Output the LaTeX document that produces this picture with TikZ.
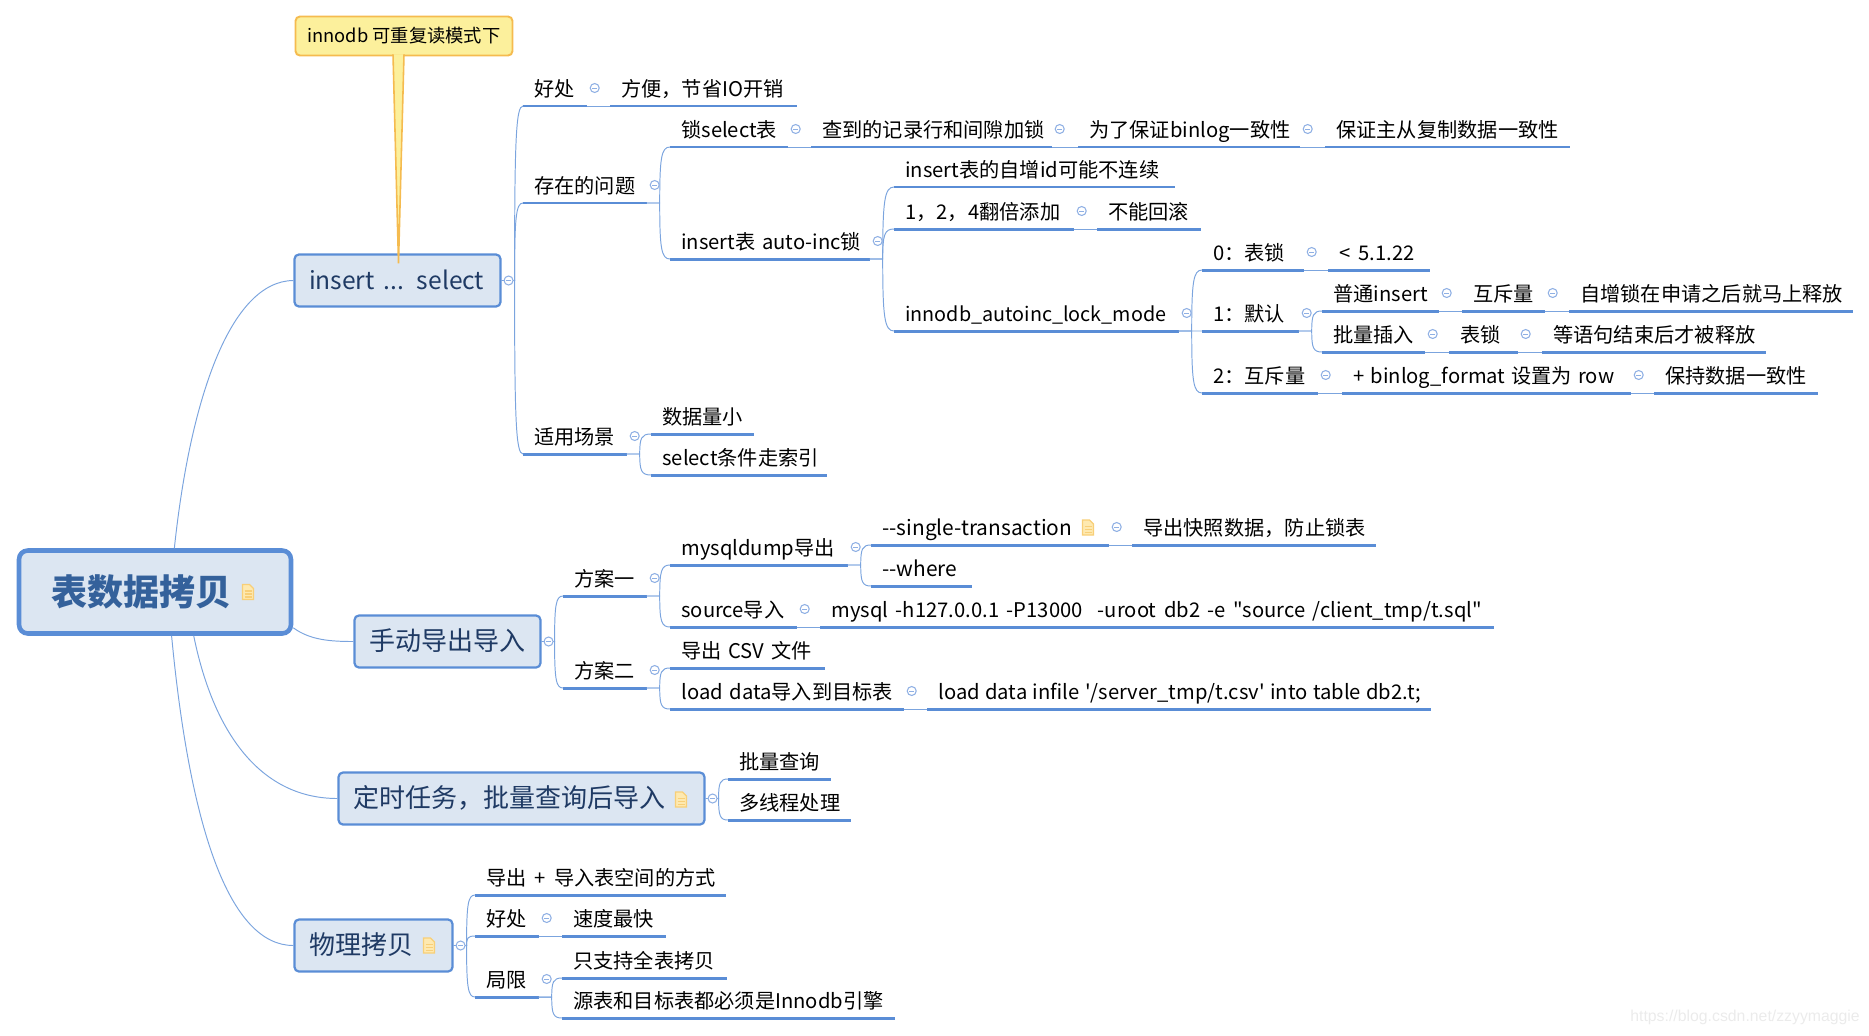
\documentclass[tikz,border=0pt]{standalone}
\usepackage{fontspec}
\usetikzlibrary{calc}
\newfontfamily\mapfont{Noto Sans CJK SC}
\newfontfamily\markfont{Liberation Sans}
\definecolor{boxfill}{HTML}{DCE6F2}
\definecolor{boxline}{HTML}{5A8DD6}
\definecolor{linkline}{HTML}{7BA4DE}
\definecolor{boxtext}{HTML}{1F3A64}
\definecolor{roottext}{HTML}{34619B}
\definecolor{calloutfill}{HTML}{FCF09C}
\definecolor{calloutline}{HTML}{F5BB4F}
\definecolor{notefill}{HTML}{FEE9B0}
\definecolor{noteline}{HTML}{F8CF78}
\definecolor{foldline}{HTML}{8FB0E4}
\tikzset{
  topic/.style={anchor=south west,text width=#1*0.02cm,inner xsep=0pt,inner ysep=0pt,align=left,
    execute at begin node={\hspace*{0.22cm}},
    text height=12pt,text depth=5.4pt,font=\mapfont\fontsize{11.5}{14}\selectfont,
    append after command={(\tikzlastnode.south west) edge[topicline] (\tikzlastnode.south east)}},
  topicline/.style={draw=boxline,line width=1.7pt},
  link/.style={draw=linkline,line width=0.55pt},
  mainbox/.style={draw=boxline,fill=boxfill,rounded corners=2.5pt,line width=1.25pt,
    text width=#1,align=left,inner xsep=0.29cm,inner ysep=0pt,minimum height=1.04cm,
    text height=12.7pt,text depth=2.1pt,text=boxtext,font=\mapfont\fontsize{14.8}{17}\selectfont},
  rootbox/.style={draw=boxline,fill=boxfill,rounded corners=5pt,line width=2.6pt,
    text width=4.14cm,align=left,inner xsep=0.65cm,inner ysep=0pt,minimum height=1.66cm,
    text height=18pt,text depth=2.5pt,text=roottext,font=\mapfont\bfseries\fontsize{20.5}{24}\selectfont},
  calloutbox/.style={draw=calloutline,fill=calloutfill,rounded corners=2.5pt,line width=1.1pt,
    minimum width=4.34cm,minimum height=0.78cm,inner sep=0pt,font=\mapfont\fontsize{10.4}{12}\selectfont},
  foldmark/.style={circle,draw=foldline,fill=white,inner sep=0pt,minimum size=0.18cm,line width=0.6pt,
    path picture={\draw[foldline,line width=0.5pt] ([xshift=-1.5pt]path picture bounding box.center)
      -- ([xshift=1.5pt]path picture bounding box.center);}},
}
\newcommand{\branch}[2]{%
  \draw[link] (#1) -- ++(13,0) coordinate (m)
    .. controls ($(m)!0.8!(m |- #2)$) and ($(m |- #2)!0.15!(#2)$) .. (#2);}
\newcommand{\widesp}[1]{\spaceskip=#1em\relax}
\newcommand{\latinsize}[1]{\fontsize{#1}{14}\selectfont}
\begin{document}
\begin{tikzpicture}[x=0.02cm,y=-0.02cm]
  \useasboundingbox (0,0) rectangle (1869,1035);
  % main boxes
  \node[rootbox] (root) at (155,592) {表数据拷贝};
  \node[mainbox=3.54cm] (insertsel) at (397.5,280.5) {\fontsize{14}{17}\selectfont\mbox{insert ... select}};
  \node[mainbox=3.14cm] (manual) at (447.5,641.5) {手动导出导入};
  \node[mainbox=6.74cm] (timed) at (521.5,798.5) {定时任务，批量查询后导入};
  \node[mainbox=2.58cm] (physical) at (373.5,945.5) {物理拷贝};
  \node[calloutbox] (callout) at (404,36) {innodb 可重复读模式下};
  % insert ... select
  \node[topic=63] (goodpart) at (523,106) {好处};
  \node[topic=186] (saveio) at (610,106) {方便，节省IO开销};
  \node[topic=123] (issues) at (523,203) {存在的问题};
  \node[topic=117] (locksel) at (670,147) {锁select表};
  \node[topic=240] (gaplock) at (811,147) {查到的记录行和间隙加锁};
  \node[topic=221] (binlog) at (1078,147) {为了保证binlog一致性};
  \node[topic=244] (replica) at (1325,147) {保证主从复制数据一致性};
  \node[topic=199] (autoinc) at (670,259) {insert表 auto-inc锁};
  \node[topic=280] (idgap) at (894,187) {insert表的自增id可能不连续};
  \node[topic=179] (doubling) at (894,229) {1，2，4翻倍添加};
  \node[topic=103] (norollback) at (1097,229) {不能回滚};
  \node[topic=284] (lockmode) at (894,331) {\latinsize{11.25}innodb\_autoinc\_lock\_mode};
  \node[topic=101] (modezero) at (1202,270) {0：表锁};
  \node[topic=101] (version) at (1328,270) {\widesp{0.4}< 5.1.22};
  \node[topic=96] (modeone) at (1202,331) {1：默认};
  \node[topic=116] (plain) at (1322,311) {普通insert};
  \node[topic=82] (mutexa) at (1462,311) {互斥量};
  \node[topic=283] (release) at (1569,311) {自增锁在申请之后就马上释放};
  \node[topic=102] (bulk) at (1322,352) {批量插入};
  \node[topic=68] (tablelock) at (1449,352) {表锁};
  \node[topic=223] (stmtend) at (1542,352) {等语句结束后才被释放};
  \node[topic=115] (modetwo) at (1202,393) {2：互斥量};
  \node[topic=288] (rowfmt) at (1342,393) {\widesp{0.3}+ binlog\_format 设置为 row};
  \node[topic=163] (consistent) at (1654,393) {保持数据一致性};
  \node[topic=103] (scene) at (523,454) {适用场景};
  \node[topic=102] (small) at (651,434) {数据量小};
  \node[topic=175] (index) at (651,475) {select条件走索引};
  % manual export and import
  \node[topic=83] (planone) at (563,596) {方案一};
  \node[topic=177] (dump) at (670,565) {mysqldump导出};
  \node[topic=237] (single) at (871,545) {\latinsize{11.9}--single-transaction};
  \node[topic=243] (snapshot) at (1132,545) {导出快照数据，防止锁表};
  \node[topic=100] (where) at (871,586) {\latinsize{11.9}--where};
  \node[topic=126] (source) at (670,627) {source导入};
  \node[topic=673] (srccmd) at (820,627) {\widesp{0.375}mysql -h127.0.0.1 -P13000\ \ -uroot db2 -e "source /client\_tmp/t.sql"};
  \node[topic=83] (plantwo) at (563,688) {方案二};
  \node[topic=154] (csv) at (670,668) {导出 CSV 文件};
  \node[topic=233] (load) at (670,709) {load data导入到目标表};
  \node[topic=503] (loadcmd) at (927,709) {\widesp{0.27}load data infile '/server\_tmp/t.csv' into table db2.t;};
  % timed job
  \node[topic=102] (query) at (728,779) {批量查询};
  \node[topic=122] (thread) at (728,820) {多线程处理};
  % physical copy
  \node[topic=250] (tablespace) at (475,895) {\widesp{0.4}导出 + 导入表空间的方式};
  \node[topic=63] (phygood) at (475,936) {好处};
  \node[topic=103] (fast) at (562,936) {速度最快};
  \node[topic=63] (limit) at (475,997) {局限};
  \node[topic=164] (whole) at (562,978) {只支持全表拷贝};
  \node[topic=332] (innodb) at (562,1018) {源表和目标表都必须是Innodb引擎};
  % root connectors
  \draw[link] ($(root.north west)!0.57!(root.north east)$) .. controls (190,400) and (230,281) .. (insertsel.west);
  \draw[link] ($(root.south east)+(0,-8)$) .. controls (310,640) and (330,641.5) .. (manual.west);
  \draw[link] ($(root.south west)!0.64!(root.south east)$) .. controls (215,740) and (265,798.5) .. (timed.west);
  \draw[link] ($(root.south west)!0.56!(root.south east)$) .. controls (190,830) and (230,945.5) .. (physical.west);
  % brackets
  \foreach \p/\c in {insertsel/goodpart,insertsel/issues,insertsel/scene,manual/planone,manual/plantwo,
      timed/query,timed/thread,physical/tablespace,physical/phygood,physical/limit}
    {\branch{\p.east}{\c.south west}}
  \foreach \p/\c in {issues/locksel,issues/autoinc,autoinc/idgap,autoinc/doubling,autoinc/lockmode,
      lockmode/modezero,lockmode/modeone,lockmode/modetwo,modeone/plain,modeone/bulk,scene/small,scene/index,
      planone/dump,planone/source,dump/single,dump/where,plantwo/csv,plantwo/load,limit/whole,limit/innodb}
    {\branch{\p.south east}{\c.south west}}
  % single child links
  \foreach \p/\c in {goodpart/saveio,locksel/gaplock,gaplock/binlog,binlog/replica,doubling/norollback,
      modezero/version,plain/mutexa,mutexa/release,bulk/tablelock,tablelock/stmtend,modetwo/rowfmt,rowfmt/consistent,
      single/snapshot,source/srccmd,load/loadcmd,phygood/fast}
    {\draw[link] (\p.south east) -- (\c.south west);}
  % callout pointer
  \filldraw[draw=calloutline,fill=calloutfill,line width=0.9pt] ($(callout.south)+(-11,-2)$)
    -- ($(insertsel.north)+(1,10)$) -- ($(callout.south)+(0,-2)$);
  % collapse marks
  \foreach \n in {insertsel,manual,timed,physical}
    {\node[foldmark] (fold\n) at ($(\n.east)+(7,0)$) {};}
  \foreach \n in {goodpart,issues,locksel,gaplock,binlog,autoinc,doubling,lockmode,modezero,modeone,plain,mutexa,
      bulk,tablelock,modetwo,rowfmt,scene,planone,dump,single,source,plantwo,load,phygood,limit}
    {\node[foldmark] (fold\n) at ($(\n.south east)+(8,-18)$) {};}
  % note marks
  \foreach \x/\y in {248/592,681/799.5,429/945.5,1088/527.5}{
    \filldraw[draw=noteline,fill=notefill,line width=0.7pt] (\x-5.5,\y-7.5) -- (\x+1.5,\y-7.5) -- (\x+5.5,\y-3.5)
      -- (\x+5.5,\y+7.5) -- (\x-5.5,\y+7.5) -- cycle;
    \foreach \d in {-1,2,5}
      \draw[noteline,line width=0.7pt] (\x-3.5,\y+\d) -- (\x+3.5,\y+\d);
  }
  \node[anchor=west,inner sep=0pt,text=black!8,font=\markfont\fontsize{9}{11}\selectfont] (wmark) at (1630,1017) {https://blog.csdn.net/zzyymaggie};
\end{tikzpicture}
\end{document}
